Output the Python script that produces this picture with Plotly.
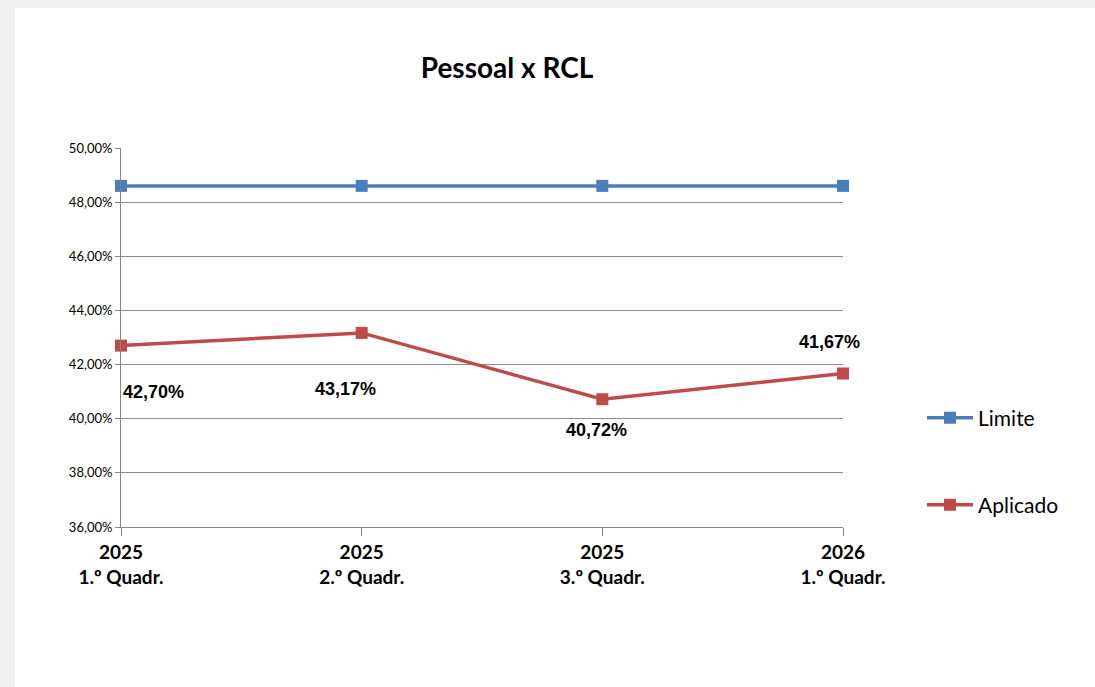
import plotly.graph_objects as go

categories = ["2025<br>1.º Quadr.", "2025<br>2.º Quadr.", "2025<br>3.º Quadr.", "2026<br>1.º Quadr."]
limite = [48.60, 48.60, 48.60, 48.60]
aplicado = [42.70, 43.17, 40.72, 41.67]
aplicado_labels = ["42,70%", "43,17%", "40,72%", "41,67%"]
y_ticks = [36, 38, 40, 42, 44, 46, 48, 50]
y_tick_labels = ["36,00%", "38,00%", "40,00%", "42,00%", "44,00%", "46,00%", "48,00%", "50,00%"]

# label offsets (styling only)
label_style = [
    dict(xanchor="left", xshift=0, yshift=-46),
    dict(xanchor="center", xshift=-16, yshift=-56),
    dict(xanchor="center", xshift=-6, yshift=-31),
    dict(xanchor="center", xshift=-14, yshift=32),
]

BLUE = "#4a7ebb"
RED = "#be4b48"
CAL = "Lato, 'Open Sans', sans-serif"

xi = list(range(len(categories)))

fig = go.Figure()
fig.add_trace(go.Scatter(
    x=xi, y=limite, name="Limite", mode="lines+markers",
    line=dict(color=BLUE, width=3.5),
    marker=dict(symbol="square", size=12, color=BLUE),
    cliponaxis=False, legend="legend",
))
fig.add_trace(go.Scatter(
    x=xi, y=aplicado, name="Aplicado", mode="lines+markers",
    line=dict(color=RED, width=3.5),
    marker=dict(symbol="square", size=12, color=RED),
    cliponaxis=False, legend="legend2",
))

for i, (v, t) in enumerate(zip(aplicado, aplicado_labels)):
    st = label_style[i]
    fig.add_annotation(
        x=xi[i], y=v, text="<b>" + t + "</b>", showarrow=False,
        xanchor=st["xanchor"], yanchor="middle",
        xshift=st["xshift"], yshift=st["yshift"],
        font=dict(family="'Liberation Sans', Arial, sans-serif", size=18, color="#000000"),
    )

# white page area over light gray background
L, R, T, B = 121, 252, 148, 160
W, H = 1095, 687
pw, ph = W - L - R, H - T - B
fig.add_shape(
    type="rect", xref="paper", yref="paper", layer="below",
    x0=(15 - L) / pw, x1=(W + 5 - L) / pw,
    y0=-(B + 5) / ph, y1=(H - B - 8) / ph,
    fillcolor="white", line=dict(width=0),
)

fig.update_layout(
    width=W, height=H,
    margin=dict(l=L, r=R, t=T, b=B),
    paper_bgcolor="#f0f0f0",
    plot_bgcolor="rgba(0,0,0,0)",
    separators=",.",
    title=dict(
        text="<b>Pessoal x RCL</b>", x=507 / W, xanchor="center",
        y=1 - 68 / H, yanchor="middle",
        font=dict(family=CAL, size=28, color="#000000"),
    ),
    xaxis=dict(
        range=[0, 3], tickmode="array", tickvals=xi,
        ticktext=["<b>" + c + "</b>" for c in categories],
        showgrid=False, zeroline=False,
        showline=True, linecolor="#868686", linewidth=1,
        ticks="outside", ticklen=8, tickcolor="#868686",
        tickfont=dict(family=CAL, size=19, color="#000000"),
    ),
    yaxis=dict(
        range=[36, 50], tickmode="array", tickvals=y_ticks,
        ticktext=y_tick_labels,
        showgrid=True, gridcolor="#8c8c8c", gridwidth=1,
        zeroline=False,
        showline=True, linecolor="#868686", linewidth=1,
        ticks="outside", ticklen=5, tickcolor="#868686",
        tickfont=dict(family=CAL, size=13, color="#000000"),
    ),
    legend=dict(
        x=(922 - L) / pw, y=(H - B - 418) / ph, xanchor="left", yanchor="middle",
        itemwidth=46,
        bgcolor="rgba(0,0,0,0)", font=dict(family=CAL, size=21, color="#000000"),
    ),
    legend2=dict(
        x=(922 - L) / pw, y=(H - B - 505) / ph, xanchor="left", yanchor="middle",
        itemwidth=46,
        bgcolor="rgba(0,0,0,0)", font=dict(family=CAL, size=21, color="#000000"),
    ),
    showlegend=True,
)

fig.write_html(
    "out.html",
    config={"displayModeBar": False},
    post_script="document.body.style.margin='0';document.body.style.background='#f0f0f0';",
)
